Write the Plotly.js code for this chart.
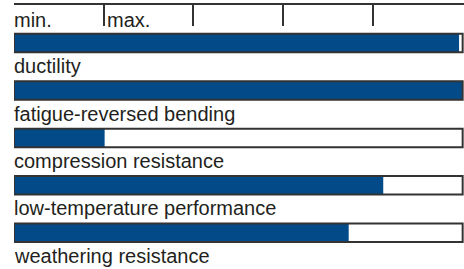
<!DOCTYPE html>
<html>
<head>
<meta charset="utf-8">
<script src="https://cdn.plot.ly/plotly-3.0.1.min.js"></script>
<style>html,body{margin:0;padding:0;background:#fff;}#chart{width:464px;height:269px;}</style>
</head>
<body>
<div id="chart"></div>
<script>
const categories = ["ductility", "fatigue-reversed bending", "compression resistance", "low-temperature performance", "weathering resistance"];
const values = [99.2, 100, 20.2, 82.3, 74.6];
const scaleMax = [100, 100, 100, 100, 100];
const tickValues = [20, 40, 60, 80];
const scaleLabels = ["min.", "max."];
const scaleLabelPos = [0, 20];

const FONT = "Liberation Sans, Arial, sans-serif";
const TEXT = "#231f20";
const BLUE = "#034b88";
const EDGE = "#333333";
const BW = 0.39;

const traces = [
  {type: "bar", orientation: "h", y: categories, x: scaleMax, width: BW,
   marker: {color: "#ffffff", line: {width: 0}}, hoverinfo: "skip"},
  {type: "bar", orientation: "h", y: categories, x: values, width: BW,
   marker: {color: BLUE, line: {width: 0}}, hoverinfo: "skip"},
  {type: "bar", orientation: "h", y: categories, x: scaleMax, width: BW,
   marker: {color: "rgba(0,0,0,0)", line: {width: 2, color: EDGE}}, hoverinfo: "skip"}
];

const annotations = categories.map(c => ({
  xref: "x", yref: "y", x: 0, y: c, xanchor: "left", yanchor: "middle",
  yshift: -23, xshift: -2, text: c, showarrow: false,
  font: {family: FONT, size: 20, color: TEXT}
})).concat(scaleLabels.map((t, i) => ({
  xref: "x", yref: "paper", x: scaleLabelPos[i], y: 1, xanchor: "left", yanchor: "middle",
  yshift: -15, xshift: i === 0 ? -2 : 1, text: t, showarrow: false,
  font: {family: FONT, size: 20, color: TEXT}
})));

const layout = {
  width: 464, height: 269,
  margin: {l: 14, r: 0, t: 5, b: 0, pad: 0},
  paper_bgcolor: "#fff", plot_bgcolor: "#fff",
  barmode: "overlay", showlegend: false,
  xaxis: {range: [0, 100.3], side: "top", showgrid: false, zeroline: false,
    showline: true, linecolor: EDGE, linewidth: 2,
    tickmode: "array", tickvals: tickValues, ticktext: tickValues.map(() => ""),
    ticks: "inside", ticklen: 21, tickwidth: 2, tickcolor: EDGE, fixedrange: true},
  yaxis: {type: "category", categoryorder: "array", categoryarray: categories,
    range: [4.766, -0.804], visible: false, fixedrange: true},
  annotations: annotations
};

Plotly.newPlot("chart", traces, layout, {staticPlot: true, displayModeBar: false});
</script>
</body>
</html>
